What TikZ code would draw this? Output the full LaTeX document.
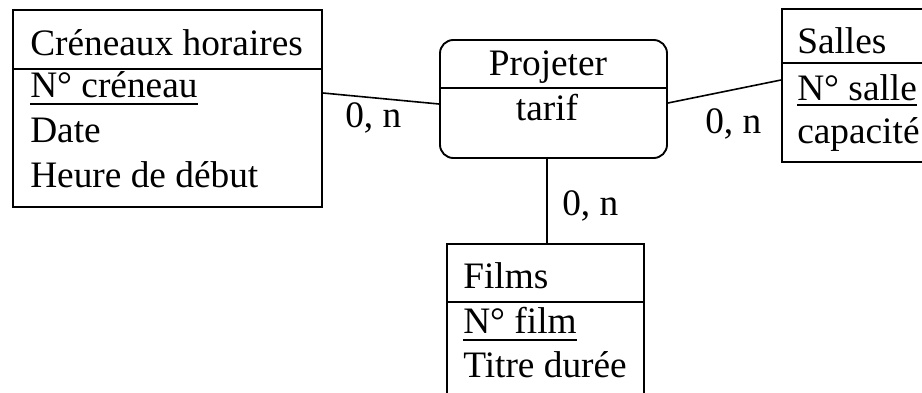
\documentclass[tikz,border=0pt]{standalone}
\usepackage{fontspec}
\setmainfont{Liberation Serif}
\usepackage{tikz}
\usetikzlibrary{positioning, fit}

\tikzset{
    entity/.style={draw, line width=1.4pt, inner sep=0pt},
    assoc/.style={draw, line width=1.4pt, inner sep=0pt, rounded corners=10pt},
    sep/.style={line width=1.4pt},
    attr/.style={inner sep=0pt, anchor=base west},
    card/.style={inner sep=0pt, anchor=base west},
    link/.style={line width=1.2pt},
    keyline/.style={line width=1.4pt}
}

\begin{document}
\begin{tikzpicture}[x=0.75pt, y=-0.75pt, font=\fontsize{28}{34}\selectfont]
    \useasboundingbox (0,0) rectangle (922,393);
    \clip (0,0) rectangle (922,393);
    \fill[white] (0,0) rectangle (922,393);

    % Entity: Creneaux horaires
    \node[entity, fit={(13,10) (322,207)}] (cren) {};
    \draw[sep] (cren.west |- 0,69) -- (cren.east |- 0,69);
    \node[attr] (cren-title) at (30,55) {Créneaux horaires};
    \node[attr] (cren-key) at (30,97) {N° créneau};
    \node[attr] (cren-date) at (30,142) {Date};
    \node[attr] (cren-heure) at (30,187) {Heure de début};
    \draw[keyline] ([yshift=-5.5pt]cren-key.base west) -- ([yshift=-5.5pt]cren-key.base east);

    % Association: Projeter
    \node[assoc, fit={(440,40) (667,158)}] (proj) {};
    \draw[sep] (proj.west |- 0,88) -- (proj.east |- 0,88);
    \node[inner sep=0pt, anchor=base] (proj-title) at (548,75) {Projeter};
    \node[inner sep=0pt, anchor=base] (proj-tarif) at (547,120) {tarif};

    % Entity: Salles (cut at the right edge)
    \node[entity, fit={(782,9) (980,162)}] (salles) {};
    \draw[sep] (salles.west |- 0,63) -- (salles.east |- 0,63);
    \node[attr] (salles-title) at (797,53) {Salles};
    \node[attr] (salles-key) at (797,100) {N° salle};
    \node[attr] (salles-cap) at (797,143) {capacité};
    \draw[keyline] ([yshift=-4pt]salles-key.base west) -- ([yshift=-4pt]salles-key.base east);

    % Entity: Films (cut at the bottom edge)
    \node[entity, fit={(447,244) (644,430)}] (films) {};
    \draw[sep] (films.west |- 0,302) -- (films.east |- 0,302);
    \node[attr] (films-title) at (463,288) {Films};
    \node[attr] (films-key) at (463,333) {N° film};
    \node[attr] (films-titre) at (463,377) {Titre durée};
    \draw[keyline] ([yshift=-5.5pt]films-key.base west) -- ([yshift=-5.5pt]films-key.base east);

    % Links and cardinalities
    \draw[link] (cren.east |- 0,93) -- (proj.west |- 0,104);
    \node[card] (card-cren) at (345,127) {0, n};
    \draw[link] (proj.east |- 0,103) -- (salles.west |- 0,80);
    \node[card] (card-salles) at (705,133) {0, n};
    \draw[link] (proj.south -| 547,0) -- (films.north -| 547,0);
    \node[card] (card-films) at (562,215) {0, n};
\end{tikzpicture}
\end{document}
